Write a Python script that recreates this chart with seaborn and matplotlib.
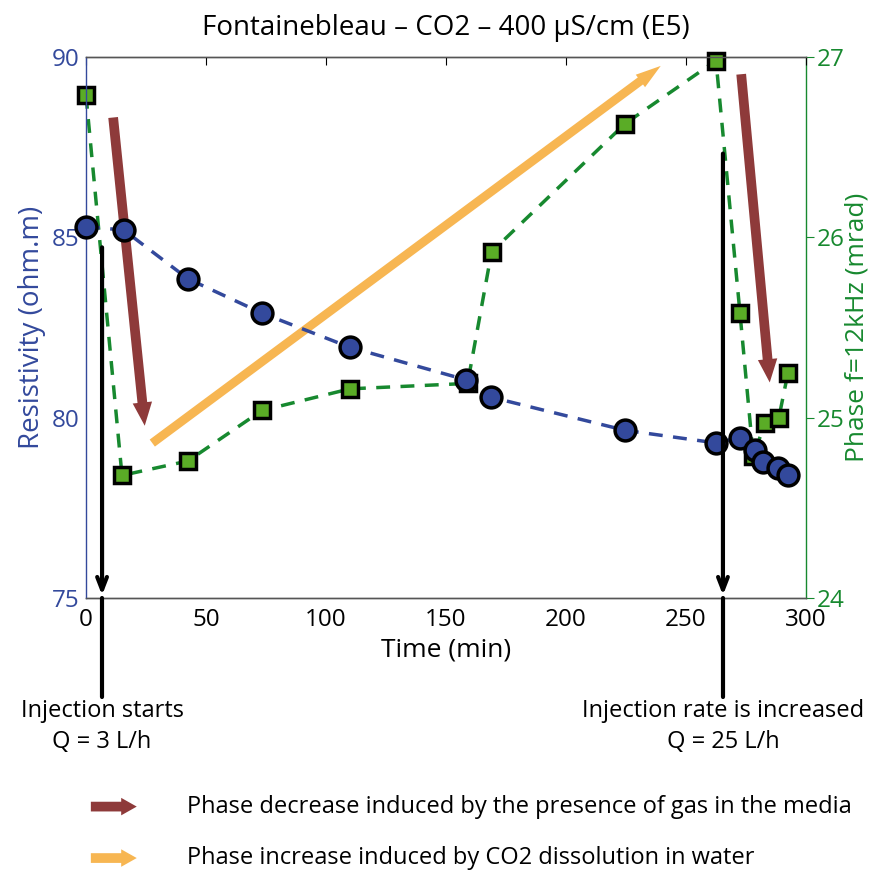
import matplotlib
matplotlib.use("Agg")
import matplotlib.pyplot as plt
import seaborn as sns
import pandas as pd

# resistivity (ohm.m) vs time (min)
res_time = [0, 15.8, 42.5, 73.3, 110, 158.3, 168.7, 224.6, 262.5, 272.5, 278.7, 282, 288.3, 292.5]
res_vals = [85.3, 85.2, 83.85, 82.9, 81.95, 81.05, 80.57, 79.65, 79.3, 79.45, 79.1, 78.77, 78.6, 78.4]

# phase at 12 kHz (mrad) vs time (min)
phase_time = [0, 15, 42.5, 73.3, 110, 159, 169, 224.6, 262.5, 272.5, 278, 283, 288.7, 292.5]
phase_vals = [26.79, 24.68, 24.76, 25.04, 25.16, 25.19, 25.92, 26.63, 26.98, 25.58, 24.79, 24.97, 25.0, 25.25]

# events (time, top of arrow in resistivity units)
event_time = [6.7, 265.4]
event_top = [84.8, 87.4]
event_line1 = ["Injection starts", "Injection rate is increased"]
event_line2 = ["Q = 3 L/h", "Q = 25 L/h"]

# interpretation arrows in (time, resistivity) coords
brown_arrows = [((11.2, 88.4), (24.6, 79.7)), ((272.9, 89.6), (285.0, 80.9))]
orange_arrow = ((26.7, 79.25), (240.4, 89.8))

BLUE = "#33499c"
GREEN = "#17892f"
SQ = "#5aac26"
BROWN = "#8e3a3a"
ORANGE = "#f7b652"

sns.set_style("white")
plt.rcParams["font.family"] = ["Open Sans", "DejaVu Sans"]
plt.rcParams["text.color"] = "black"
plt.rcParams["axes.labelcolor"] = "black"
plt.rcParams["xtick.color"] = "black"

fig = plt.figure(figsize=(8.72, 8.72), dpi=100)
ax = fig.add_axes([0.0986, 0.3142, 0.8257, 0.6204])
ax2 = ax.twinx()

df_r = pd.DataFrame({"t": res_time, "v": res_vals})
df_p = pd.DataFrame({"t": phase_time, "v": phase_vals})

sns.lineplot(data=df_r, x="t", y="v", ax=ax, color=BLUE, linestyle=(0, (4, 3)), lw=2.5,
             marker="o", markersize=15, markerfacecolor=BLUE, markeredgecolor="black",
             markeredgewidth=2.5, clip_on=False, zorder=3)
sns.lineplot(data=df_p, x="t", y="v", ax=ax2, color=GREEN, linestyle=(0, (4, 3)), lw=2.5,
             marker="s", markersize=12, markerfacecolor=SQ, markeredgecolor="black",
             markeredgewidth=2.5, clip_on=False, zorder=3)

ax.set_xlim(0, 300)
ax.set_ylim(75, 90)
ax2.set_ylim(24, 27)
ax.set_xticks([0, 50, 100, 150, 200, 250, 300])
ax.set_yticks([75, 80, 85, 90])
ax2.set_yticks([24, 25, 26, 27])

ax.set_xlabel("Time (min)", fontsize=19, labelpad=4)
ax.set_ylabel("Resistivity (ohm.m)", fontsize=20, color=BLUE, labelpad=4)
ax2.set_ylabel("Phase f=12kHz (mrad)", fontsize=19, color=GREEN, labelpad=0)
ax.set_title("Fontainebleau \u2013 CO2 \u2013 400 \u00b5S/cm (E5)", fontsize=20, pad=16)

ax.tick_params(axis="x", direction="in", length=6, labelsize=17.5, top=True, pad=7)
ax.tick_params(axis="y", direction="in", length=0, labelsize=17.5, labelcolor=BLUE, pad=5)
ax2.tick_params(axis="y", direction="out", length=6, labelsize=17.5, labelcolor=GREEN, color=GREEN, pad=2)

for a in (ax, ax2):
    for s in a.spines.values():
        s.set_linewidth(1)
        s.set_color("#555555")
ax.spines["left"].set_color(BLUE)
ax2.spines["left"].set_visible(False)
ax2.spines["right"].set_color(GREEN)
ax.spines["right"].set_visible(False)

ax.set_zorder(ax2.get_zorder() + 1)
ax.patch.set_visible(False)

# injection events
for t, top, l1, l2 in zip(event_time, event_top, event_line1, event_line2):
    ax.annotate("", xy=(t, 75), xytext=(t, top),
                arrowprops=dict(arrowstyle="->,head_length=0.9,head_width=0.35", lw=3, color="black"),
                annotation_clip=False, zorder=5)
    ax.plot([t, t], [75, 72.25], color="black", lw=3, clip_on=False, zorder=5)
    ax.text(t, 71.87, l1, ha="center", va="center", fontsize=17)
    ax.text(t, 71.0, l2, ha="center", va="center", fontsize=17)

# interpretation arrows
for start, end in brown_arrows:
    ax.annotate("", xy=end, xytext=start,
                arrowprops=dict(arrowstyle="simple,head_length=1.2,head_width=1.0,tail_width=0.5",
                                color=BROWN, lw=0, mutation_scale=14), zorder=2)
ax.annotate("", xy=orange_arrow[1], xytext=orange_arrow[0],
            arrowprops=dict(arrowstyle="simple,head_length=1.3,head_width=0.8,tail_width=0.45",
                            color=ORANGE, lw=0, mutation_scale=14), zorder=2)

# legend for arrows
for yf, col, txt in [(0.075, BROWN, "Phase decrease induced by the presence of gas in the media"),
                     (0.016, ORANGE, "Phase increase induced by CO2 dissolution in water")]:
    fig.patches.append(matplotlib.patches.FancyArrowPatch(
        (0.101, yf), (0.160, yf), transform=fig.transFigure,
        arrowstyle="simple,head_length=0.8,head_width=0.9,tail_width=0.5",
        mutation_scale=14, color=col, lw=0))
    fig.text(0.215, yf, txt, fontsize=17, va="center", ha="left")

fig.savefig("out.png", dpi=100)
